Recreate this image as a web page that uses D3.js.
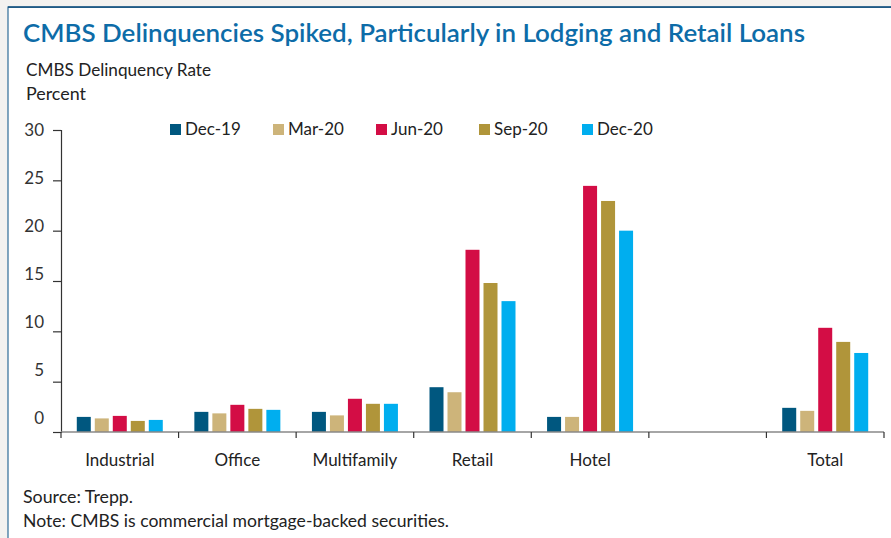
<!DOCTYPE html>
<html>
<head>
<meta charset="utf-8">
<script src="https://cdn.jsdelivr.net/npm/d3@7"></script>
<style>
  html, body { margin: 0; padding: 0; background: #f3f2f0; }
  svg { display: block; font-family: "Source Sans Pro", Lato, "Open Sans", sans-serif; }
</style>
</head>
<body>
<svg id="chart" width="891" height="538"></svg>
<script>
const categories = ["Industrial", "Office", "Multifamily", "Retail", "Hotel", " ", "Total"];
const seriesNames = ["Dec-19", "Mar-20", "Jun-20", "Sep-20", "Dec-20"];
const seriesColors = ["#00577f", "#cdb47a", "#d30d45", "#b0953a", "#00aeef"];
const dec19 = [1.5, 2.0, 2.0, 4.45, 1.5, null, 2.4];
const mar20 = [1.35, 1.85, 1.65, 3.95, 1.5, null, 2.1];
const jun20 = [1.6, 2.7, 3.3, 18.1, 24.45, null, 10.35];
const sep20 = [1.1, 2.3, 2.8, 14.8, 22.95, null, 8.95];
const dec20 = [1.2, 2.2, 2.8, 13.0, 20.0, null, 7.85];
const yTicks = [0, 5, 10, 15, 20, 25, 30];
const titleText = "CMBS Delinquencies Spiked, Particularly in Lodging and Retail Loans";
const subtitle1 = "CMBS Delinquency Rate";
const subtitle2 = "Percent";
const sourceText = "Source: Trepp.";
const noteText = "Note: CMBS is commercial mortgage-backed securities.";

const seriesValues = [dec19, mar20, jun20, sep20, dec20];

const svg = d3.select("#chart");

// panel
svg.append("rect").attr("x", 8).attr("y", 7).attr("width", 900).attr("height", 560)
  .attr("fill", "#ffffff").attr("stroke", "#2f6d98").attr("stroke-width", 1.2);
svg.append("line").attr("x1", 8).attr("x2", 891).attr("y1", 7.2).attr("y2", 7.2)
  .attr("stroke", "#1f5a85").attr("stroke-width", 1.8);

// titles
svg.append("text").attr("x", 23).attr("y", 42).text(titleText)
  .attr("fill", "#0d6ca8").attr("font-size", 25).attr("font-weight", 600)
  .attr("textLength", 782).attr("lengthAdjust", "spacingAndGlyphs");
svg.append("text").attr("x", 26).attr("y", 76).text(subtitle1)
  .attr("fill", "#222").attr("font-size", 17)
  .attr("textLength", 185).attr("lengthAdjust", "spacingAndGlyphs");
svg.append("text").attr("x", 26).attr("y", 100).text(subtitle2)
  .attr("fill", "#222").attr("font-size", 17)
  .attr("textLength", 60).attr("lengthAdjust", "spacingAndGlyphs");

// scales
const x0 = d3.scaleBand().domain(categories).range([61, 884]).paddingInner(0).paddingOuter(0);
const x1 = d3.scaleBand().domain(seriesNames).range([0, 86]).paddingInner(4 / 18).paddingOuter(0);
const groupOffset = (x0.bandwidth() - 86) / 2;
const y = d3.scaleLinear().domain([0, 30]).range([432, 130]);
const yLabel = d3.scaleLinear().domain([0, 30]).range([418, 130]);

// bars
const data = [];
categories.forEach((c, ci) => {
  seriesNames.forEach((s, si) => {
    const v = seriesValues[si][ci];
    if (v != null) data.push({ c, s, v, color: seriesColors[si] });
  });
});
svg.append("g").selectAll("rect").data(data).join("rect")
  .attr("x", d => x0(d.c) + groupOffset + x1(d.s))
  .attr("width", x1.bandwidth())
  .attr("y", d => y(d.v))
  .attr("height", d => y(0) - y(d.v))
  .attr("fill", d => d.color);

// y axis
const yAxis = svg.append("g").attr("transform", "translate(61,0)")
  .call(d3.axisLeft(y).tickValues(yTicks).tickSize(8).tickFormat(""));
yAxis.select(".domain").attr("stroke", "#333").attr("stroke-width", 1.2);
yAxis.selectAll(".tick line").attr("stroke", "#333").attr("stroke-width", 1.2);
svg.append("g").selectAll("text").data(yTicks).join("text")
  .attr("x", 44).attr("y", d => yLabel(d)).attr("dy", "0.35em")
  .attr("text-anchor", "end").attr("font-size", 17).attr("fill", "#333")
  .text(d => d);

// x axis
const xEdges = categories.map(c => x0(c)).concat([x0.range()[1]]);
svg.append("line").attr("x1", 61).attr("x2", 884).attr("y1", y(0)).attr("y2", y(0))
  .attr("stroke", "#888").attr("stroke-width", 1.5);
svg.append("g").selectAll("line").data(xEdges).join("line")
  .attr("x1", d => d).attr("x2", d => d)
  .attr("y1", y(0)).attr("y2", y(0) + 6)
  .attr("stroke", "#333").attr("stroke-width", 1.2);
svg.append("g").selectAll("text").data(categories).join("text")
  .attr("x", d => x0(d) + x0.bandwidth() / 2).attr("y", 466)
  .attr("text-anchor", "middle").attr("font-size", 17).attr("fill", "#222")
  .text(d => d);

// legend
const legend = svg.append("g").selectAll("g").data(seriesNames).join("g")
  .attr("transform", (d, i) => `translate(${170 + i * 103},124)`);
legend.append("rect").attr("width", 11).attr("height", 11)
  .attr("fill", (d, i) => seriesColors[i]);
legend.append("text").attr("x", 15).attr("y", 11).attr("font-size", 17)
  .attr("fill", "#222").text(d => d);

// notes
svg.append("text").attr("x", 23).attr("y", 503).text(sourceText)
  .attr("fill", "#222").attr("font-size", 17)
  .attr("textLength", 110).attr("lengthAdjust", "spacingAndGlyphs");
svg.append("text").attr("x", 23).attr("y", 527).text(noteText)
  .attr("fill", "#222").attr("font-size", 17)
  .attr("textLength", 426).attr("lengthAdjust", "spacingAndGlyphs");
</script>
</body>
</html>
